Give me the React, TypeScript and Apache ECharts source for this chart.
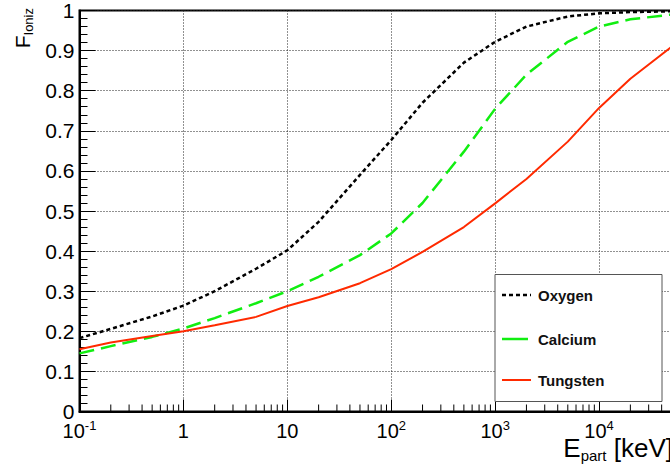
import React, { useEffect, useRef } from "react";
import * as echarts from "echarts";

// Particle energy in keV
const energies = [0.1, 0.2, 0.5, 1, 2, 5, 10, 20, 50, 100, 200, 500, 1000, 2000, 5000, 10000, 20000, 50000];
const oxygen = [0.183, 0.206, 0.237, 0.264, 0.3, 0.356, 0.402, 0.473, 0.59, 0.677, 0.77, 0.87, 0.922, 0.96, 0.985, 0.993, 0.996, 0.998];
const calcium = [0.145, 0.163, 0.186, 0.207, 0.233, 0.27, 0.3, 0.336, 0.39, 0.444, 0.52, 0.648, 0.755, 0.84, 0.922, 0.96, 0.978, 0.99];
const tungsten = [0.155, 0.172, 0.188, 0.2, 0.215, 0.236, 0.263, 0.285, 0.32, 0.355, 0.398, 0.46, 0.519, 0.58, 0.673, 0.757, 0.83, 0.91];

const seriesNames = ["Oxygen", "Calcium", "Tungsten"];
const seriesColors = ["#000000", "#11ee11", "#ff2a00"];

// decade tick labels, indexed by exponent + 1 (10^5 lies outside the picture)
const decadeLabels = ["{b|10}{s|-1}", "{b|1}", "{b|10}", "{b|10}{s|2}", "{b|10}{s|3}", "{b|10}{s|4}"];
const decadeExponents = [-1, 0, 1, 2, 3, 4];
const minorMultipliers = [2, 3, 4, 5, 6, 7, 8, 9];

const FONT = '"Liberation Sans", Arial, Helvetica, sans-serif';

export default function App() {
  const ref = useRef<HTMLDivElement>(null);

  useEffect(() => {
    if (!ref.current) return;
    const chart = echarts.init(ref.current, null, { renderer: "svg" });

    const minorTicks: number[][] = [];
    decadeExponents.forEach((e) => {
      minorMultipliers.forEach((m) => minorTicks.push([m * Math.pow(10, e), 0]));
    });

    const mk = (ys: number[]) => energies.map((x, i) => [x, ys[i]]);

    const option: any = {
      animation: false,
      backgroundColor: "#ffffff",
      grid: {
        left: 79.5,
        top: 10.5,
        bottom: 56.5,
        right: -33,
        containLabel: false,
        outerBoundsMode: "none",
        show: true,
        borderColor: "#000",
        borderWidth: 2,
        backgroundColor: "transparent",
      },
      xAxis: {
        type: "log",
        logBase: 10,
        min: 0.1,
        max: 100000,
        axisLine: { show: true, lineStyle: { color: "#000", width: 2 } },
        axisTick: { show: true, inside: true, length: 12, lineStyle: { color: "#000", width: 1 } },
        minorTick: { show: false },
        splitLine: { show: true, lineStyle: { color: "#222", width: 1, type: [1, 2] } },
        axisLabel: {
          margin: 7,
          color: "#000",
          formatter: (v: number) => {
            const e = Math.round(Math.log10(v));
            return decadeLabels[e + 1] || "";
          },
          rich: {
            b: { fontSize: 20, fontFamily: FONT, color: "#000", lineHeight: 24 },
            s: { fontSize: 13, fontFamily: FONT, color: "#000", verticalAlign: "top", lineHeight: 14 },
          },
        },
      },
      yAxis: {
        type: "value",
        min: 0,
        max: 1,
        interval: 0.1,
        axisLine: { show: true, lineStyle: { color: "#000", width: 2 } },
        axisTick: { show: true, inside: true, length: 16, lineStyle: { color: "#000", width: 1 } },
        minorTick: { show: true, splitNumber: 5, length: 8, lineStyle: { color: "#000", width: 1 } },
        splitLine: { show: true, lineStyle: { color: "#222", width: 1, type: [1, 2] } },
        axisLabel: {
          margin: 5,
          color: "#000",
          fontSize: 21,
          fontFamily: FONT,
          formatter: (v: number) => {
            const r = Math.round(v * 10) / 10;
            return r === 0 ? "0" : r === 1 ? "1" : r.toFixed(1);
          },
        },
      },
      series: [
        {
          name: seriesNames[0],
          type: "line",
          data: mk(oxygen),
          symbol: "none",
          z: 5,
          lineStyle: { color: seriesColors[0], width: 2.5, type: [4, 3] },
        },
        {
          name: seriesNames[1],
          type: "line",
          data: mk(calcium),
          symbol: "none",
          z: 5,
          lineStyle: { color: seriesColors[1], width: 2.5, type: [15, 7] },
        },
        {
          name: seriesNames[2],
          type: "line",
          data: mk(tungsten),
          symbol: "none",
          z: 5,
          lineStyle: { color: seriesColors[2], width: 2 },
        },
        {
          type: "custom",
          data: minorTicks,
          silent: true,
          z: 6,
          clip: false,
          renderItem: (params: any, api: any) => {
            const p = api.coord([api.value(0), 0]);
            return {
              type: "line",
              shape: { x1: p[0], y1: p[1], x2: p[0], y2: p[1] - 7 },
              style: { stroke: "#000", lineWidth: 1 },
            };
          },
        },
      ],
      graphic: [
        {
          type: "rect",
          z: 100,
          shape: { x: 495, y: 274.5, width: 167, height: 127 },
          style: { fill: "#ffffff", stroke: "#555", lineWidth: 1 },
        },
        {
          type: "line",
          z: 101,
          shape: { x1: 502, y1: 295, x2: 531, y2: 295 },
          style: { stroke: seriesColors[0], lineWidth: 2.5, lineDash: [4, 3] },
        },
        {
          type: "line",
          z: 101,
          shape: { x1: 502, y1: 339, x2: 528, y2: 339 },
          style: { stroke: seriesColors[1], lineWidth: 2.5 },
        },
        {
          type: "line",
          z: 101,
          shape: { x1: 502, y1: 380, x2: 531, y2: 380 },
          style: { stroke: seriesColors[2], lineWidth: 2 },
        },
        ...[295, 339, 380].map((y, i) => ({
          type: "text",
          z: 101,
          x: 538,
          y,
          style: {
            text: seriesNames[i],
            fontSize: 15,
            fontWeight: "bold",
            fontFamily: FONT,
            fill: "#111",
            align: "left",
            verticalAlign: "middle",
          },
        })),
        {
          type: "text",
          z: 101,
          x: 673,
          y: 448,
          style: {
            text: "{m|E}{s|part}{m| [keV]}",
            align: "right",
            verticalAlign: "middle",
            rich: {
              m: { fontSize: 26, fontFamily: FONT, fill: "#000", lineHeight: 30 },
              s: { fontSize: 15, fontFamily: FONT, fill: "#000", verticalAlign: "bottom", lineHeight: 16 },
            },
          },
        },
        {
          type: "text",
          z: 101,
          x: 22,
          y: 8,
          rotation: Math.PI / 2,
          style: {
            text: "{m|F}{s|Ioniz}",
            align: "right",
            verticalAlign: "middle",
            rich: {
              m: { fontSize: 21, fontFamily: FONT, fill: "#000", lineHeight: 26 },
              s: { fontSize: 13, fontFamily: FONT, fill: "#000", verticalAlign: "bottom", lineHeight: 14 },
            },
          },
        },
      ],
    };

    chart.setOption(option);
    return () => chart.dispose();
  }, []);

  return (
    <div
      ref={ref}
      style={{ position: "absolute", left: 0, top: 0, width: 670, height: 468, background: "#fff", overflow: "hidden" }}
    />
  );
}
